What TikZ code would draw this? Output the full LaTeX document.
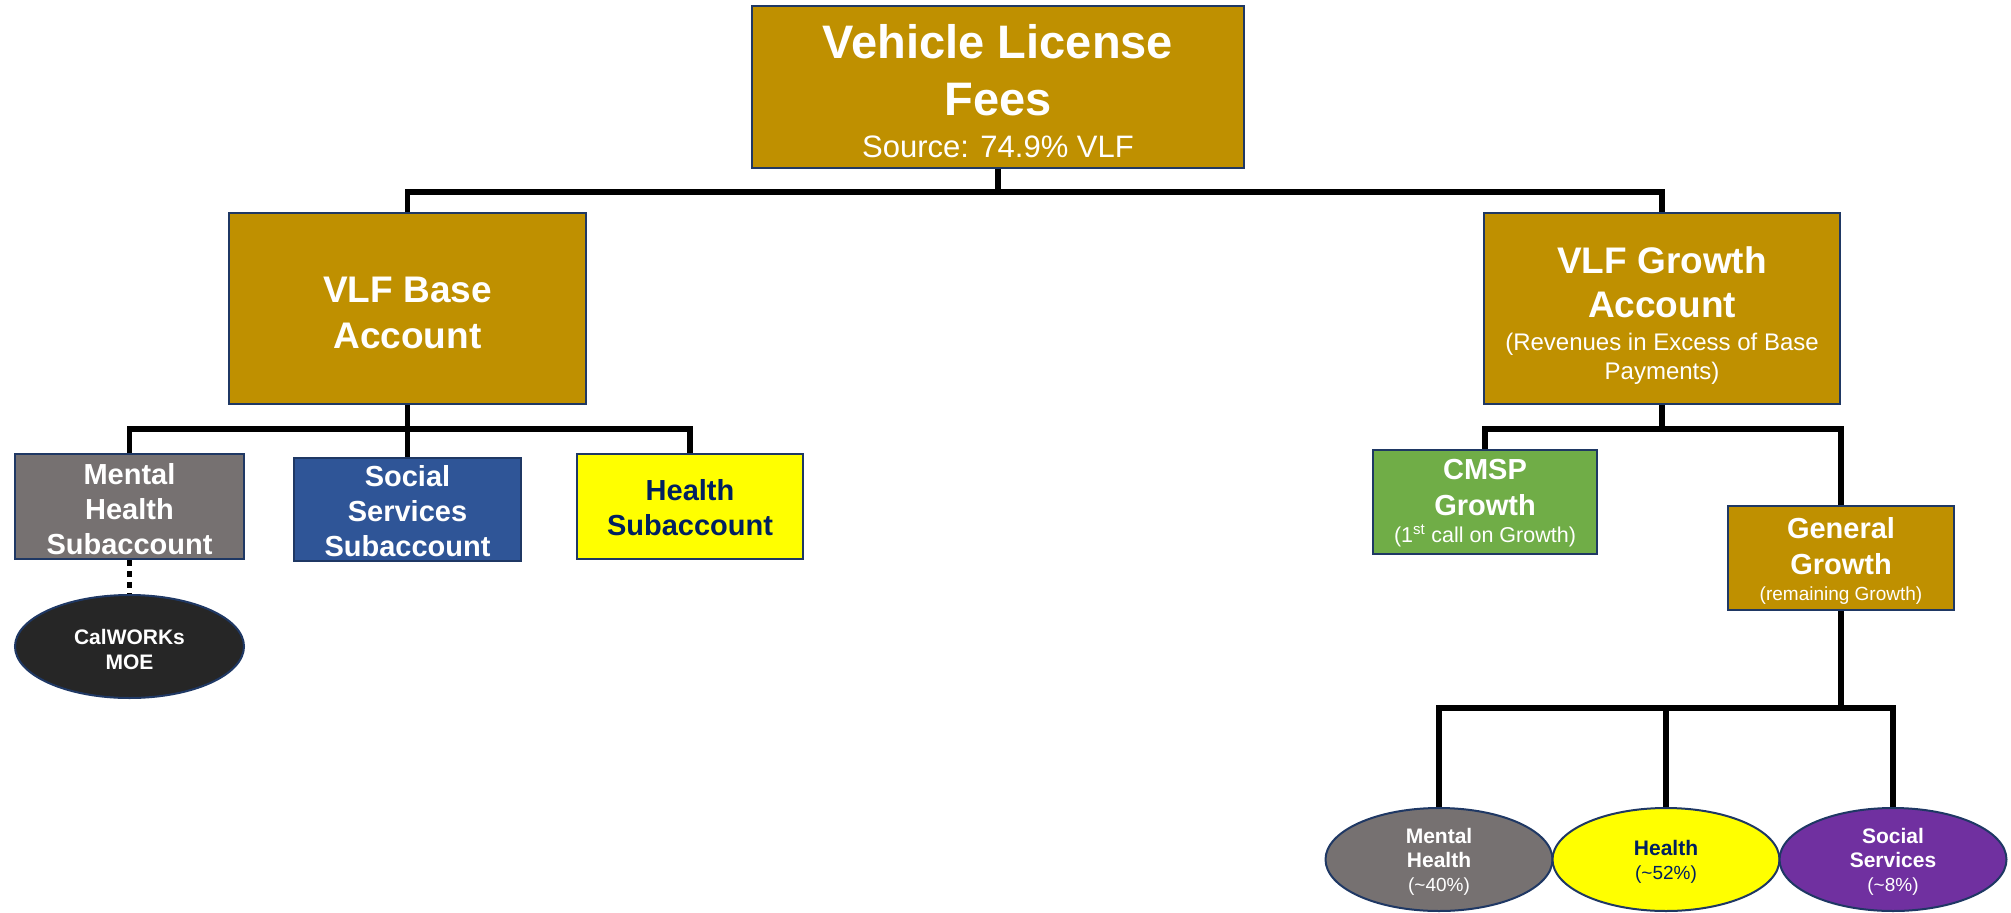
\documentclass[tikz,border=0pt]{standalone}
\usepackage{fontspec}
\setmainfont{Liberation Sans}
\usetikzlibrary{shapes.geometric}
\definecolor{gold}{HTML}{BF9000}
\definecolor{mgrey}{HTML}{767171}
\definecolor{sblue}{HTML}{2F5597}
\definecolor{hyellow}{HTML}{FFFF00}
\definecolor{cgreen}{HTML}{70AD47}
\definecolor{spurple}{HTML}{7030A0}
\definecolor{dark}{HTML}{262626}
\definecolor{navy}{HTML}{002060}
\definecolor{edge}{HTML}{1F3864}
\newcommand{\lowr}[1]{\rule{0pt}{#1pt}}
\begin{document}
\begin{tikzpicture}[x=1pt,y=-1pt,
  box/.style={draw=edge, line width=2pt, rectangle, inner sep=0pt, align=center, text=white},
  oval/.style={draw=edge, line width=2pt, ellipse, inner sep=0pt, align=center, text=white},
  conn/.style={draw=black, line width=5.5pt},
  dotconn/.style={draw=black, line width=5pt, dash pattern=on 6pt off 5pt},
  subfont/.style={font=\bfseries\fontsize{29}{35}\selectfont},
  grfont/.style={font=\bfseries\fontsize{29}{36}\selectfont},
  ovfont/.style={font=\bfseries\fontsize{21}{24}\selectfont}]
\useasboundingbox (0,0) rectangle (2011,913);
% top
\node[box, fill=gold, minimum width=492pt, minimum height=162pt, font=\bfseries\fontsize{47}{57}\selectfont] (vlf) at (998,87) {\lowr{42}Vehicle License\\Fees\\[-15pt]{\mdseries\fontsize{31}{31}\selectfont Source: 74.9\% VLF}};
% accounts
\node[box, fill=gold, minimum width=357pt, minimum height=191pt, font=\bfseries\fontsize{37}{46}\selectfont] (base) at (407.5,308.5) {\lowr{35}VLF Base\\Account};
\node[box, fill=gold, minimum width=356pt, minimum height=191pt, font=\bfseries\fontsize{37}{44}\selectfont] (growth) at (1662,308.5) {\lowr{40}VLF Growth\\Account\\[-11pt]{\mdseries\fontsize{24}{29}\selectfont (Revenues in Excess of Base}\\[-15pt]{\mdseries\fontsize{24}{29}\selectfont Payments)}};
% base subaccounts
\node[box, subfont, fill=mgrey, minimum width=229pt, minimum height=105pt] (ms) at (129.5,506.5) {\lowr{27}Mental\\Health\\Subaccount};
\node[box, subfont, fill=sblue, minimum width=227pt, minimum height=103pt] (ss) at (407.5,509.5) {\lowr{25}Social\\Services\\Subaccount};
\node[box, subfont, fill=hyellow, text=navy, minimum width=226pt, minimum height=105pt] (hs) at (690,506.5) {\lowr{23}Health\\Subaccount};
\node[oval, fill=dark, minimum width=229pt, minimum height=103pt, font=\bfseries\fontsize{21}{25}\selectfont] (cal) at (129.5,646.5) {\lowr{22}CalWORKs\\MOE};
% growth
\node[box, grfont, fill=cgreen, minimum width=224pt, minimum height=104pt] (cmsp) at (1485,501.5) {\lowr{23}CMSP\\Growth\\[-9pt]{\mdseries\fontsize{21.5}{26}\selectfont(1\textsuperscript{st} call on Growth)}};
\node[box, grfont, fill=gold, minimum width=226pt, minimum height=104pt] (gg) at (1841,558) {\lowr{27}General\\Growth\\[-10pt]{\mdseries\fontsize{19}{23}\selectfont(remaining Growth)}};
\node[oval, ovfont, fill=mgrey, minimum width=227pt, minimum height=103pt] (e1) at (1439,859.5) {\lowr{20}Mental\\Health\\{\mdseries\fontsize{19}{24}\selectfont(\textasciitilde40\%)}};
\node[oval, ovfont, fill=hyellow, text=navy, minimum width=227pt, minimum height=103pt] (e2) at (1666,859.5) {\lowr{20}Health\\{\mdseries\fontsize{19}{24}\selectfont(\textasciitilde52\%)}};
\node[oval, ovfont, fill=spurple, minimum width=227pt, minimum height=103pt] (e3) at (1893,859.5) {\lowr{20}Social\\Services\\{\mdseries\fontsize{19}{24}\selectfont(\textasciitilde8\%)}};
% connectors
\coordinate (t1) at (998,192);
\draw[conn] (vlf.south) -- (t1);
\draw[conn] (base.north) |- (t1) -| (growth.north);
\coordinate (b1) at (407.5,429);
\draw[conn] (base.south) -- (b1);
\draw[conn] (ms.north) |- (b1) -| (hs.north);
\draw[conn] (b1) -- (ss.north);
\draw[dotconn] (ms.south) -- (cal.north);
\coordinate (g1) at (1662,429);
\draw[conn] (growth.south) -- (g1);
\draw[conn] (cmsp.north) |- (g1) -| (gg.north);
\coordinate (g2) at (1841,708);
\draw[conn] (gg.south) -- (g2);
\draw[conn] (e1.north) |- (g2) -| (e3.north);
\draw[conn] (e2.north) -- (e2.north |- g2);
\end{tikzpicture}
\end{document}
